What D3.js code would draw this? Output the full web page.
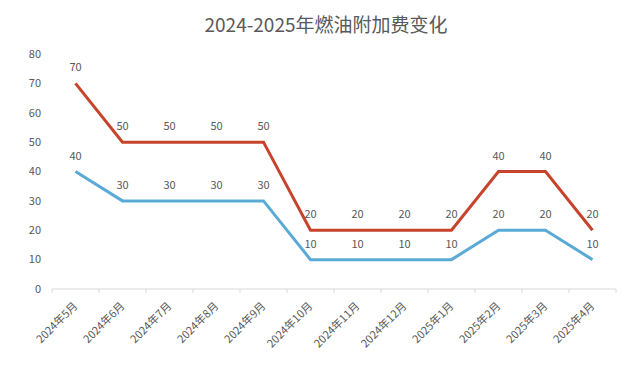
<!DOCTYPE html>
<html><head><meta charset="utf-8">
<script src="https://cdn.jsdelivr.net/npm/d3@7"></script>
<style>body{margin:0;background:#fff;} svg{display:block;}</style>
</head><body>
<svg id="c" width="640" height="369"></svg>
<script>
const categories = ["2024年5月","2024年6月","2024年7月","2024年8月","2024年9月","2024年10月","2024年11月","2024年12月","2025年1月","2025年2月","2025年3月","2025年4月"];
const seriesHigh = [70,50,50,50,50,20,20,20,20,40,40,20];
const seriesLow = [40,30,30,30,30,10,10,10,10,20,20,10];
const yTicks = [0,10,20,30,40,50,60,70,80];
const titleText = "2024-2025年燃油附加费变化";

const svg = d3.select("#c");
const font = "'Noto Sans CJK SC','Noto Sans',sans-serif";
const mLeft = 52, mRight = 616, mTop = 54, mBottom = 289;
const x = d3.scaleBand().domain(categories).range([mLeft, mRight]);
const y = d3.scaleLinear().domain([0, 80]).range([mBottom, mTop]);
const cx = d => x(d) + x.bandwidth() / 2;

svg.append("text").attr("x", 326).attr("y", 32).attr("text-anchor", "middle")
  .attr("font-family", font).attr("font-size", 19).attr("fill", "#595959").text(titleText);

// y labels
svg.append("g").selectAll("text").data(yTicks).join("text")
  .attr("x", 41).attr("y", d => y(d)).attr("dy", "0.35em").attr("text-anchor", "end")
  .attr("font-family", font).attr("font-size", 11).attr("fill", "#595959").text(d => d);

// x axis
const xa = svg.append("g").attr("transform", `translate(0,${mBottom})`);
xa.append("line").attr("x1", mLeft).attr("x2", mRight).attr("stroke", "#d9d9d9").attr("stroke-width", 1);
const bounds = categories.map(c => x(c)).concat([mRight]);
xa.selectAll("line.t").data(bounds).join("line").attr("class", "t")
  .attr("x1", d => d).attr("x2", d => d).attr("y1", 0).attr("y2", 4).attr("stroke", "#d9d9d9");
xa.selectAll("text").data(categories).join("text")
  .attr("transform", d => `translate(${cx(d)},${15}) rotate(-45)`)
  .attr("text-anchor", "end").attr("dy", "0.35em")
  .attr("font-family", font).attr("font-size", 11).attr("fill", "#595959").text(d => d);

const line = d3.line().x((d, i) => cx(categories[i])).y(d => y(d));
const drawSeries = (vals, color) => {
  svg.append("path").datum(vals).attr("d", line).attr("fill", "none")
    .attr("stroke", color).attr("stroke-width", 3).attr("stroke-linejoin", "miter");
  svg.append("g").selectAll("text").data(vals).join("text")
    .attr("x", (d, i) => cx(categories[i])).attr("y", d => y(d) - 12)
    .attr("text-anchor", "middle").attr("font-family", font).attr("font-size", 11)
    .attr("fill", "#595959").text(d => d);
};
drawSeries(seriesLow, "#5aaad8");
drawSeries(seriesHigh, "#c8432b");
</script>
</body></html>
